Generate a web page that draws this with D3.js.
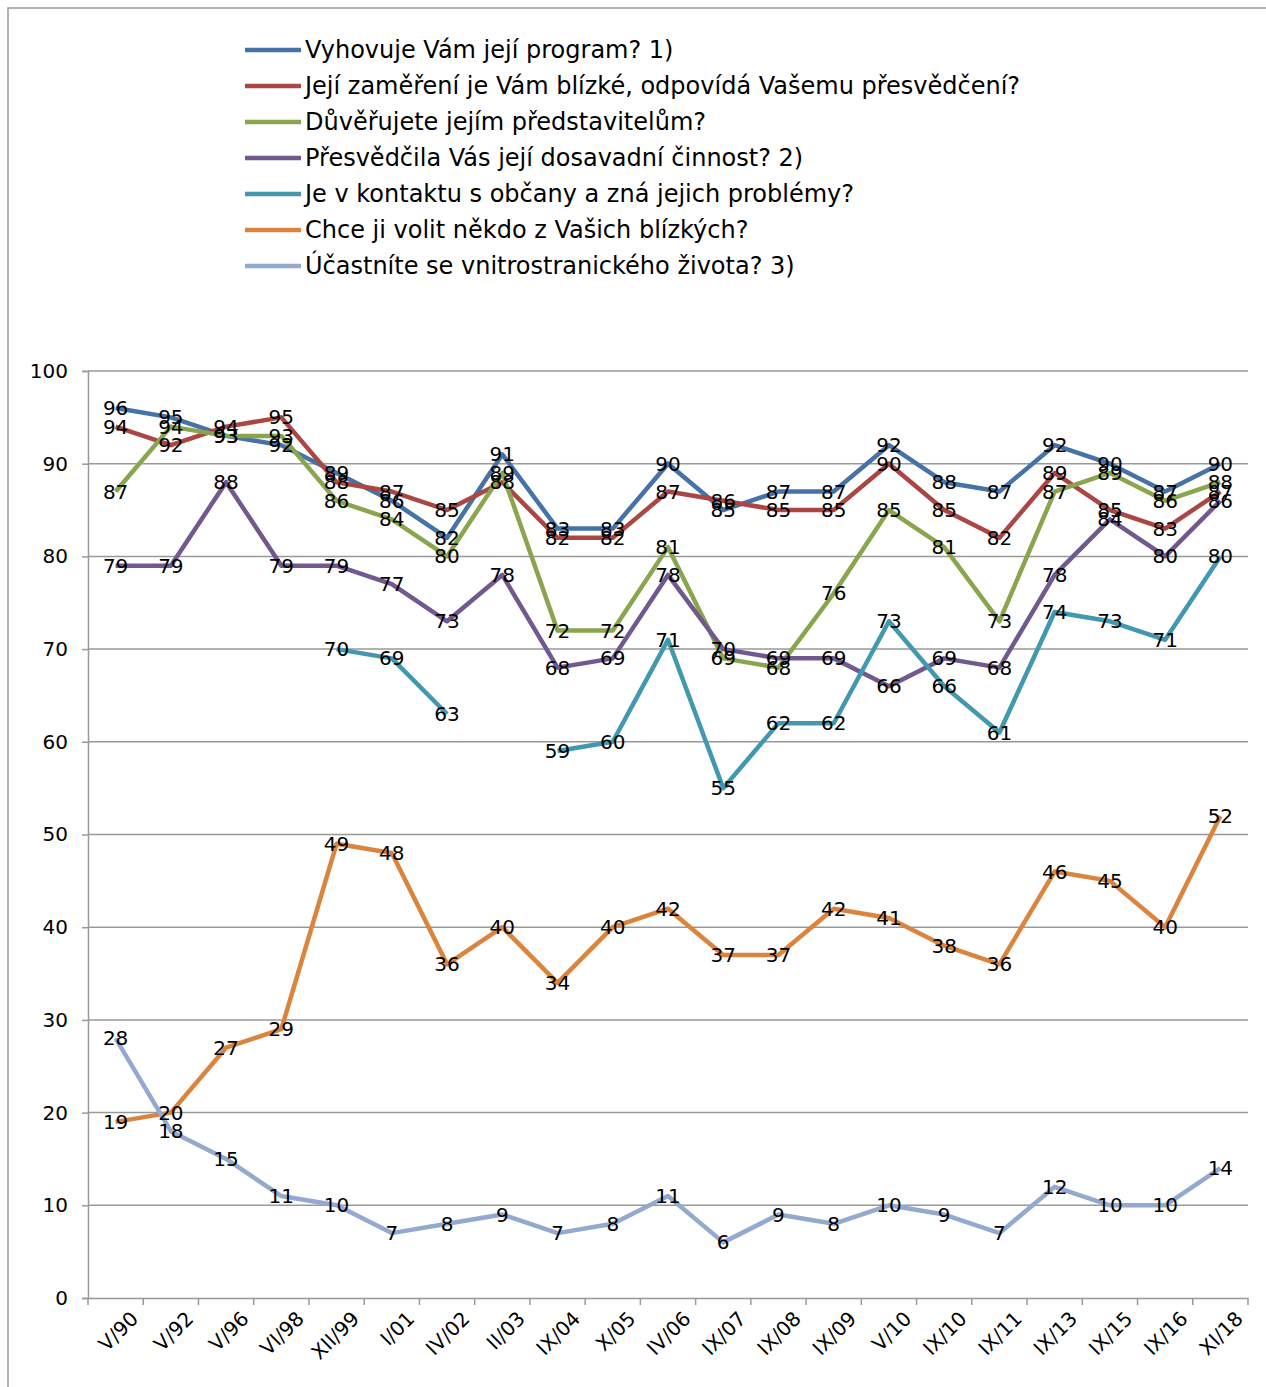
<!DOCTYPE html>
<html><head><meta charset="utf-8">
<script src="https://cdn.jsdelivr.net/npm/d3@7"></script>
<style>body{margin:0;background:#fff}svg{display:block;font-family:"DejaVu Sans",Arial,sans-serif}</style>
</head><body><svg></svg>
<script>
var categories = ["V/90","V/92","V/96","VI/98","XII/99","I/01","IV/02","II/03","IX/04","X/05","IV/06","IX/07","IX/08","IX/09","V/10","IX/10","IX/11","IX/13","IX/15","IX/16","XI/18"];
var program   = [96,95,93,92,89,86,82,91,83,83,90,85,87,87,92,88,87,92,90,87,90];
var zamereni  = [94,92,94,95,88,87,85,88,82,82,87,86,85,85,90,85,82,89,85,83,87];
var duvera    = [87,94,93,93,86,84,80,89,72,72,81,69,68,76,85,81,73,87,89,86,88];
var cinnost   = [79,79,88,79,79,77,73,78,68,69,78,70,69,69,66,69,68,78,84,80,86];
var kontakt   = [null,null,null,null,70,69,63,null,59,60,71,55,62,62,73,66,61,74,73,71,80];
var volit     = [19,20,27,29,49,48,36,40,34,40,42,37,37,42,41,38,36,46,45,40,52];
var zivot     = [28,18,15,11,10,7,8,9,7,8,11,6,9,8,10,9,7,12,10,10,14];
var yTicks = [0,10,20,30,40,50,60,70,80,90,100];

var series = [
  {name:"Vyhovuje Vám její program? 1)", values:program, color:"#4572a7"},
  {name:"Její zaměření je Vám blízké, odpovídá Vašemu přesvědčení?", values:zamereni, color:"#aa4643"},
  {name:"Důvěřujete jejím představitelům?", values:duvera, color:"#89a54e"},
  {name:"Přesvědčila Vás její dosavadní činnost? 2)", values:cinnost, color:"#71588f"},
  {name:"Je v kontaktu s občany a zná jejich problémy?", values:kontakt, color:"#4198af"},
  {name:"Chce ji volit někdo z Vašich blízkých?", values:volit, color:"#db843d"},
  {name:"Účastníte se vnitrostranického života? 3)", values:zivot, color:"#93a9cf"}
];

var svg = d3.select("svg").attr("width",1266).attr("height",1387);
svg.append("path").attr("d","M8,1387V8H1266").attr("fill","none").attr("stroke","#999").attr("stroke-width",1.5);

var x = d3.scaleBand().domain(categories).range([88,1248]);
var y = d3.scaleLinear().domain([0,100]).range([1298,371]);

var g = svg.append("g");
g.selectAll(".grid").data(yTicks.slice(1)).enter().append("line")
  .attr("x1",88).attr("x2",1248).attr("y1",d=>y(d)).attr("y2",d=>y(d))
  .attr("stroke","#999").attr("stroke-width",1.5);

var yAxis = g.append("g").attr("transform","translate(88,0)")
  .call(d3.axisLeft(y).tickValues(yTicks).tickSize(6).tickPadding(14));
var xAxis = g.append("g").attr("transform","translate(0,1298)")
  .call(d3.axisBottom(x).tickSize(0).tickFormat(""));
[yAxis,xAxis].forEach(a=>{a.select(".domain").attr("stroke","#999").attr("stroke-width",1.5);a.selectAll("line").attr("stroke","#999").attr("stroke-width",1.5);});
yAxis.selectAll("text").attr("font-size",20).attr("fill","#000").attr("font-family","DejaVu Sans, Arial");

var bounds = categories.map(c=>x(c)).concat([1248]);
g.selectAll(".xt").data(bounds).enter().append("line")
  .attr("x1",d=>d).attr("x2",d=>d).attr("y1",1298).attr("y2",1305).attr("stroke","#999").attr("stroke-width",1.5);
g.selectAll(".xl").data(categories).enter().append("text")
  .attr("transform",d=>"translate("+(x(d)+x.bandwidth()/2+14)+",1310) rotate(-45)")
  .attr("text-anchor","end").attr("dy","0.7em").attr("font-size",20).text(d=>d);

var cx = d=>x(d.c)+x.bandwidth()/2;
var line = d3.line().defined(d=>d.v!=null).x(cx).y(d=>y(d.v));
series.forEach(s=>{
  var pts = s.values.map((v,i)=>({c:categories[i],v:v}));
  g.append("path").datum(pts).attr("d",line).attr("fill","none")
    .attr("stroke",s.color).attr("stroke-width",4.5).attr("stroke-linejoin","round");
});
series.forEach(s=>{
  var pts = s.values.map((v,i)=>({c:categories[i],v:v})).filter(d=>d.v!=null);
  g.selectAll(null).data(pts).enter().append("text")
    .attr("x",cx).attr("y",d=>y(d.v)).attr("dy","0.35em").attr("text-anchor","middle")
    .attr("font-size",20).text(d=>d.v);
});

var leg = svg.append("g").attr("transform","translate(245,50)");
series.forEach((s,i)=>{
  var r = leg.append("g").attr("transform","translate(0,"+(i*36)+")");
  r.append("line").attr("x1",0).attr("x2",56).attr("stroke",s.color).attr("stroke-width",4.5);
  r.append("text").attr("x",60).attr("dy","0.35em").attr("font-size",24).text(s.name);
});
</script></body></html>
